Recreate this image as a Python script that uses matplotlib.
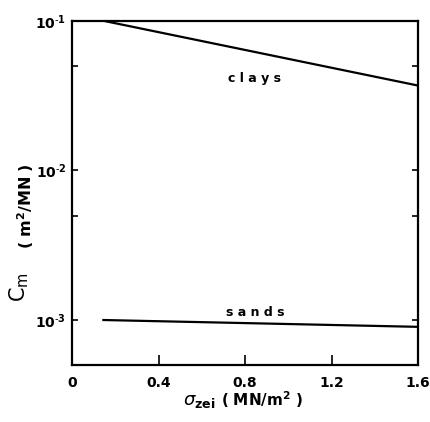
import matplotlib
matplotlib.use("Agg")
import matplotlib.pyplot as plt
from matplotlib.ticker import FixedLocator, NullFormatter

# Compressibility coefficient vs. effective vertical stress
clays_stress = [0.15, 1.6]
clays_cm = [1.0e-1, 3.7e-2]
sands_stress = [0.14, 1.6]
sands_cm = [1.0e-3, 0.9e-3]

x_ticks = [0, 0.4, 0.8, 1.2, 1.6]
x_ticklabels = ["0", "0.4", "0.8", "1.2", "1.6"]
y_major = [1e-3, 1e-2, 1e-1]
y_ticklabels = [r"$\mathbf{10}^{\text{-}\mathbf{3}}$",
                r"$\mathbf{10}^{\text{-}\mathbf{2}}$",
                r"$\mathbf{10}^{\text{-}\mathbf{1}}$"]
y_minor = [5e-3, 5e-2]

plt.rcParams["font.family"] = ["DejaVu Sans"]
plt.rcParams["mathtext.fontset"] = "dejavusans"

fig = plt.figure(figsize=(4.30, 4.22), dpi=100)
ax = fig.add_axes([72 / 430, 1 - 365 / 422, 346 / 430, 344 / 422])

ax.plot(clays_stress, clays_cm, color="black", lw=1.6, solid_capstyle="butt")
ax.plot(sands_stress, sands_cm, color="black", lw=1.6, solid_capstyle="butt")

ax.set_yscale("log")
ax.set_xlim(0, 1.6)
ax.set_ylim(5e-4, 1e-1)

ax.xaxis.set_major_locator(FixedLocator(x_ticks))
ax.set_xticklabels(x_ticklabels, fontsize=10, fontweight="bold")
ax.yaxis.set_major_locator(FixedLocator(y_major))
ax.set_yticklabels(y_ticklabels, fontsize=10)
ax.yaxis.set_minor_locator(FixedLocator(y_minor))
ax.yaxis.set_minor_formatter(NullFormatter())

ax.tick_params(axis="x", which="major", direction="in", length=7, width=1.2,
               pad=8, top=False)
ax.tick_params(axis="y", which="both", direction="in", length=4, width=1.2,
               pad=4, left=True, right=True)

for s in ax.spines.values():
    s.set_linewidth(1.6)

ax.text(0.846, 0.041, "c l a y s", ha="center", va="center",
        fontsize=9, fontweight="bold")
ax.text(0.846, 1.13e-3, "s a n d s", ha="center", va="center",
        fontsize=9, fontweight="bold")

# Axis titles
fig.text(19 / 430, 1 - 287 / 422, r"$\mathrm{C_m}$", rotation=90,
         ha="center", va="center", fontsize=15)
fig.text(26 / 430, 1 - 206 / 422, r"$\mathbf{(\ m^2/MN\ )}$", rotation=90,
         ha="center", va="center", fontsize=11.5)
fig.text(199 / 430, 1 - 401 / 422, r"$\sigma_{\mathbf{zei}}$",
         ha="center", va="center", fontsize=13)
fig.text(262 / 430, 1 - 400 / 422, r"$\mathbf{(\ MN/m^2\ )}$",
         ha="center", va="center", fontsize=11)

fig.savefig("out.png", dpi=100)
